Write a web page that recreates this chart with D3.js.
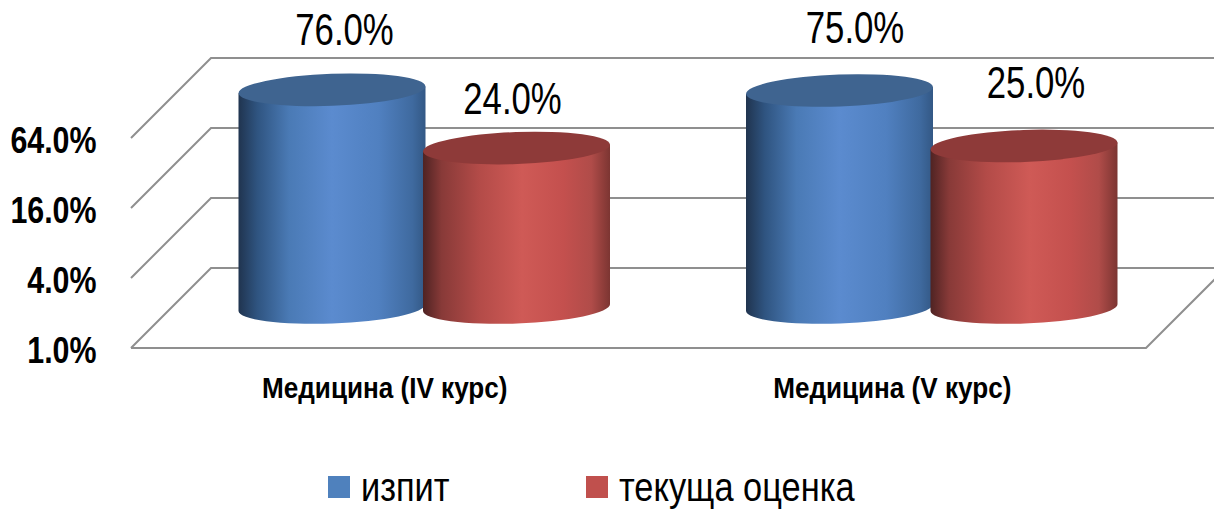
<!DOCTYPE html>
<html><head><meta charset="utf-8">
<script src="https://cdn.jsdelivr.net/npm/d3@7"></script>
<style>html,body{margin:0;padding:0;background:#fff}svg{display:block}
text{font-family:"Liberation Sans",Arial,sans-serif;fill:#000}</style>
</head><body><div id="c"></div>
<script>
const categories = ["Медицина (IV курс)", "Медицина (V курс)"];
const seriesNames = ["изпит", "текуща оценка"];
const izpit = [76, 75];
const tekushta = [24, 25];
const tickValues = [1, 4, 16, 64];

const W = 1214, H = 509;
const svg = d3.select("#c").append("svg").attr("width", W).attr("height", H);
const defs = svg.append("defs");
const palette = [
  {base:"#4f81bd", top:"#3f6490", stops:[[0,"#20344f"],[.1,"#2f5480"],[.27,"#4a7ab5"],[.5,"#5b8bcf"],[.75,"#5080c0"],[.93,"#3f6a9f"],[1,"#335885"]]},
  {base:"#c0504d", top:"#8e3a39", stops:[[0,"#4f2323"],[.1,"#883a38"],[.3,"#b34b48"],[.53,"#cf5a56"],[.75,"#c4504e"],[.9,"#b04c49"],[1,"#7c3532"]]}
];
palette.forEach((p,i)=>{
  const g = defs.append("linearGradient").attr("id","g"+i).attr("x1",0).attr("x2",1).attr("y1",0).attr("y2",0);
  p.stops.forEach(s=>g.append("stop").attr("offset",s[0]).attr("stop-color",s[1]));
});

const x0 = d3.scaleBand().domain(categories).range([131,1146]);
const x1 = d3.scalePoint().domain(seriesNames).range([-92.75,91.75]);
const y = d3.scaleLog().base(4).domain([1,64]).range([348,138]);
const depthX = 80, depthY = 80;

// walls and floor
const gridColor = "#8f8f8f";
const grid = svg.append("g").attr("fill","none").attr("stroke",gridColor).attr("stroke-width",2);
tickValues.forEach(t=>{
  grid.append("path").attr("d",`M${x0.range()[0]},${y(t)}L${x0.range()[0]+depthX},${y(t)-depthY}L${x0.range()[1]+depthX},${y(t)-depthY}`);
});
grid.append("path").attr("d",`M${x0.range()[0]},${y(1)}L${x0.range()[1]},${y(1)}L${x0.range()[1]+depthX},${y(1)-depthY}`);

// cylinders
const barDX = 40, barDY = 39.5, baseLift = 1, rx = 93.5, ry = 16, tilt = -2.1;
const dyTilt = rx*Math.sin(-tilt*Math.PI/180);
const rows = categories.flatMap((c,i)=>[
  {c,s:seriesNames[0],v:izpit[i],k:0,i},
  {c,s:seriesNames[1],v:tekushta[i],k:1,i}
]);
const bars = svg.append("g").selectAll("g").data(rows).join("g");
const cx = d => x0(d.c)+x0.bandwidth()/2+barDX+x1(d.s);
bars.append("path").attr("fill",d=>`url(#g${d.k})`).attr("d",d=>{
  const c=cx(d), t=y(d.v)-barDY, b=y(1)-barDY-baseLift;
  return `M${c-rx},${t+dyTilt}L${c-rx},${b+dyTilt}A${rx},${ry} ${tilt} 0 0 ${c+rx},${b-dyTilt}L${c+rx},${t-dyTilt}Z`;
});
bars.append("ellipse").attr("fill",d=>palette[d.k].top)
  .attr("rx",rx).attr("ry",ry)
  .attr("transform",d=>`translate(${cx(d)},${y(d.v)-barDY}) rotate(${tilt})`);

// value labels (placed by hand in the original)
const labelPos = [[344.5,45],[512.5,114],[855,43],[1036,98]];
svg.append("g").selectAll("text").data(rows).join("text")
  .attr("transform",(d,i)=>`translate(${labelPos[i][0]},${labelPos[i][1]}) scale(.79,1)`)
  .attr("text-anchor","middle").style("font-size","44px")
  .text(d=>d.v.toFixed(1)+"%");

// y axis
const yAxis = d3.axisLeft(y).tickValues(tickValues).tickSize(0).tickPadding(0).tickFormat(d=>d.toFixed(1)+"%");
const gy = svg.append("g").attr("transform","translate(96.5,0)").call(yAxis);
gy.select(".domain").remove();
gy.selectAll("text").style("font-size","37.5px").style("font-weight","bold").style("font-family",null)
  .attr("x",0).attr("y",14).attr("dy",0).attr("transform","scale(.81,1)");

// x axis
const xAxis = d3.axisBottom(x0).tickSize(0).tickPadding(0);
const gx = svg.append("g").attr("transform","translate(0,398)").call(xAxis);
gx.select(".domain").remove();
gx.selectAll("text").style("font-size","30px").style("font-weight","bold").style("font-family",null)
  .attr("y",0).attr("dy",0).attr("transform","scale(.87,1)");

// legend
const lx = [328,586];
const leg = svg.append("g").selectAll("g").data(seriesNames).join("g").attr("transform",(d,i)=>`translate(${lx[i]},476)`);
leg.append("rect").attr("width",22).attr("height",22).attr("fill",(d,i)=>palette[i].base);
leg.append("text").attr("transform","translate(33,24.5) scale(.86,1)").style("font-size","40px").text(d=>d);
</script></body></html>
